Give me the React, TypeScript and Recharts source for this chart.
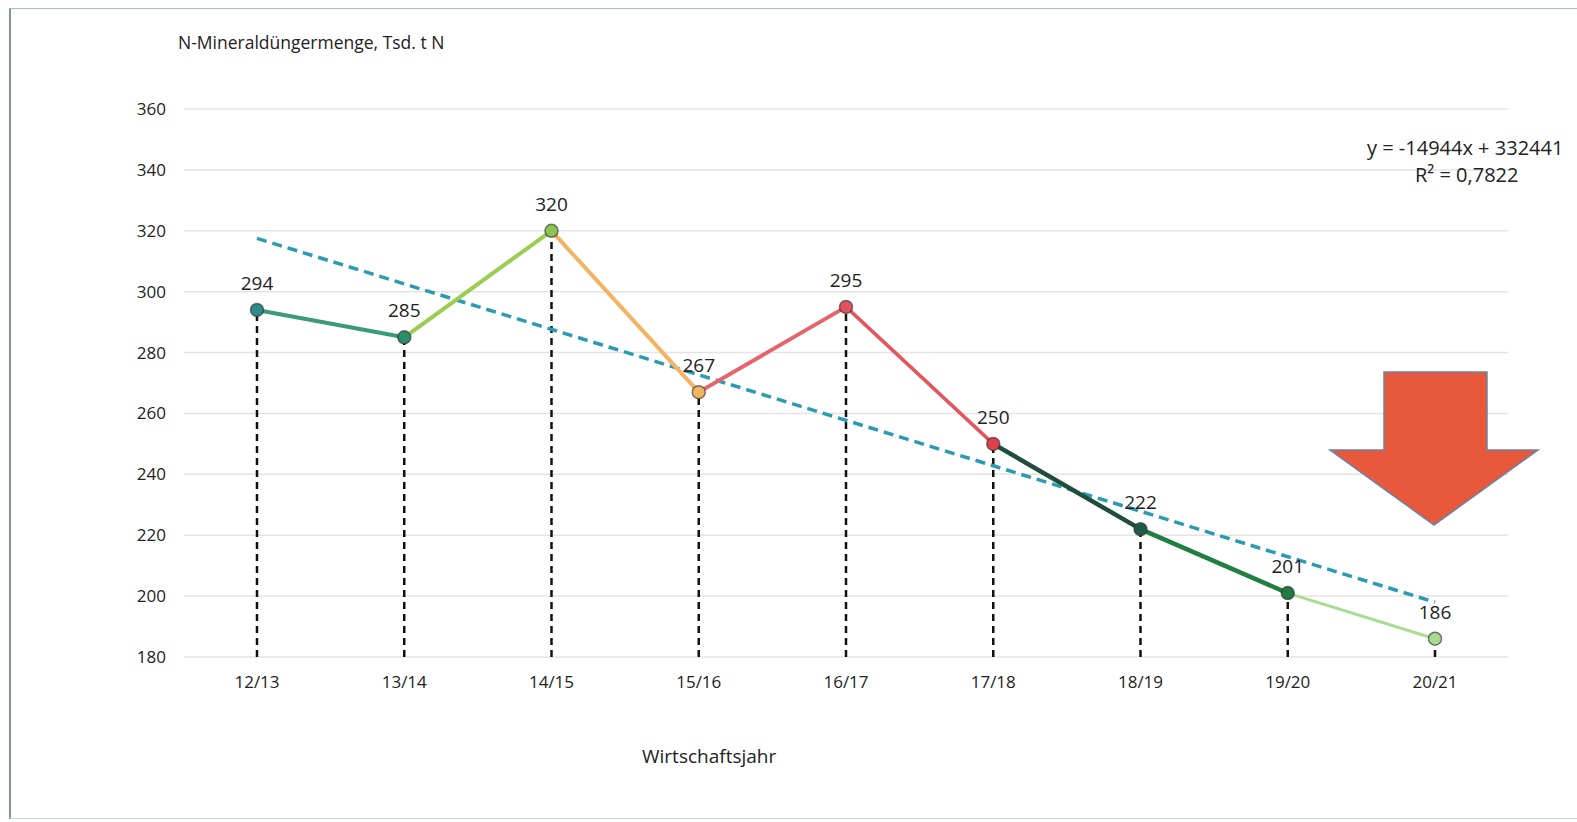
import React from 'react';
import {
  LineChart,
  Line,
  XAxis,
  YAxis,
  CartesianGrid,
  ReferenceLine,
  LabelList,
} from "recharts";

const categories = ["12/13", "13/14", "14/15", "15/16", "16/17", "17/18", "18/19", "19/20", "20/21"];
const values = [294, 285, 320, 267, 295, 250, 222, 201, 186];
// linear trend, only its two ends are drawn
const trend = [317.5, null, null, null, null, null, null, null, 198];
const yTicks = [180, 200, 220, 240, 260, 280, 300, 320, 340, 360];

const segmentColors = ["#3a9a7a", "#9bcd52", "#f2b463", "#e8646c", "#e2565f", "#1f4d3a", "#1f7f3e", "#a9dc92"];
const segmentWidths = [4, 4, 4, 4, 3.5, 4.5, 4.5, 3];
const dotColors = ["#2b8c88", "#2d8c6c", "#8cc452", "#f2b463", "#e05462", "#e0404e", "#1f5a48", "#1f7a44", "#a9dc92"];

const FONT = '"Open Sans", sans-serif';

const data = categories.map((name, i) => {
  const row: any = { name, v: values[i], trend: trend[i] };
  segmentColors.forEach((_, s) => {
    row[`s${s}`] = i === s || i === s + 1 ? values[i] : null;
  });
  return row;
});

const renderDot = (props: any) => {
  const { cx, cy, index } = props;
  if (cx == null || cy == null) return null;
  return (
    <circle
      key={`dot-${index}`}
      cx={cx}
      cy={cy}
      r={6.5}
      fill={dotColors[index]}
      stroke="#333"
      strokeOpacity={0.65}
      strokeWidth={1.5}
    />
  );
};

const App = () => {
  return (
    <div style={{ position: "absolute", left: 0, top: 0, width: 1577, height: 822, overflow: "hidden", background: "#fff", fontFamily: FONT }}>
      <div style={{ position: "absolute", left: 9, top: 8, width: 1566, height: 809, borderLeft: "2px solid #7f9696", borderTop: "1px solid #a9c2c2", borderBottom: "1px solid #c9dada" }} />
      <LineChart
        width={1577}
        height={822}
        data={data}
        margin={{ top: 109, right: 69, left: 0, bottom: 135 }}
      >
        <CartesianGrid vertical={false} stroke="#e4e4e4" strokeWidth={1.5} />
        <XAxis
          dataKey="name"
          height={30}
          padding={{ left: 73, right: 73 }}
          axisLine={false}
          tickLine={false}
          tickSize={0}
          tickMargin={19}
          tick={{ fill: "#222", fontSize: 17, fontFamily: FONT }}
        />
        <YAxis
          width={184}
          domain={[180, 360]}
          ticks={yTicks}
          axisLine={false}
          tickLine={false}
          tickSize={0}
          tickMargin={18}
          tick={{ fill: "#222", fontSize: 17, fontFamily: FONT }}
        />
        {categories.map((c, i) => (
          <ReferenceLine
            key={`drop-${c}`}
            segment={[{ x: c, y: 180 }, { x: c, y: values[i] }]}
            stroke="#111"
            strokeWidth={2.5}
            strokeDasharray="7 5"
          />
        ))}
        <Line
          dataKey="trend"
          connectNulls
          stroke="#2a9bb0"
          strokeWidth={3.5}
          strokeDasharray="10 6"
          dot={false}
          isAnimationActive={false}
        />
        {segmentColors.map((color, s) => (
          <Line
            key={`seg-${s}`}
            dataKey={`s${s}`}
            stroke={color}
            strokeWidth={segmentWidths[s]}
            dot={false}
            activeDot={false}
            isAnimationActive={false}
          />
        ))}
        <Line
          dataKey="v"
          stroke="none"
          dot={renderDot}
          activeDot={false}
          isAnimationActive={false}
        >
          <LabelList dataKey="v" position="top" offset={20} fill="#222" fontSize={19} fontFamily={FONT} />
        </Line>
      </LineChart>

      <div style={{ position: "absolute", left: 178, top: 30, fontSize: 17.5, color: "#222" }}>
        N-Mineraldüngermenge, Tsd. t N
      </div>
      <div style={{ position: "absolute", left: 642, top: 743, fontSize: 19, color: "#222" }}>
        Wirtschaftsjahr
      </div>
      <div style={{ position: "absolute", left: 1367, top: 134, fontSize: 20, color: "#222", lineHeight: "27px" }}>
        <div>y = -14944x + 332441</div>
        <div style={{ paddingLeft: 48 }}>R² = 0,7822</div>
      </div>
      <svg style={{ position: "absolute", left: 1320, top: 365 }} width={230} height={170}>
        <polygon
          points="64,7 167,7 167,85 218,85 114,160 10,85 64,85"
          fill="#e8583b"
          stroke="#6a82a8"
          strokeWidth={1.5}
        />
      </svg>
    </div>
  );
};

export default App;
